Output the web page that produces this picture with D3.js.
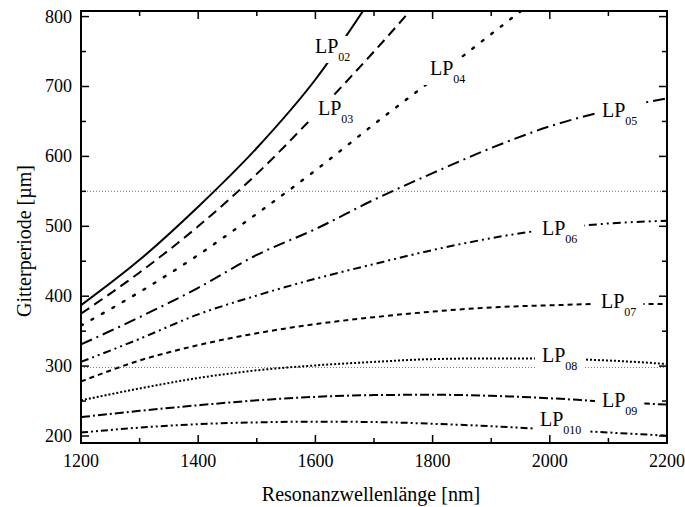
<!DOCTYPE html>
<html>
<head>
<meta charset="utf-8">
<script src="https://cdn.jsdelivr.net/npm/d3@7"></script>
<style>
  html, body { margin: 0; padding: 0; background: #fff; }
  svg { display: block; }
</style>
</head>
<body>
<svg id="chart" width="685" height="507" font-family="'Liberation Serif', 'Times New Roman', serif"></svg>
<script>
// ---------------- data ----------------
const wavelengths = [1200, 1300, 1400, 1500, 1600, 1700, 1800, 1900, 2000, 2100, 2200];
const modeNames = ["LP02", "LP03", "LP04", "LP05", "LP06", "LP07", "LP08", "LP09", "LP010"];
const modeSubs  = ["02", "03", "04", "05", "06", "07", "08", "09", "010"];
// grating period [µm] per wavelength (null = outside plotted range)
const lp02  = [387, 452, 528, 612, 710, 832, null, null, null, null, null];
const lp03  = [375, 434, 500, 575, 660, 750, 845, null, null, null, null];
const lp04  = [358, 406, 459, 518, 580, 646, 710, 775, 840, null, null];
const lp05  = [331, 370, 412, 459, 496, 538, 576, 612, 643, 666, 683];
const lp06  = [306, 339, 374, 401, 425, 446, 466, 483, 496, 504, 508];
const lp07  = [278, 308, 330, 347, 360, 370, 378, 384, 387, 389, 389];
const lp08  = [251, 268, 283, 294, 301, 306, 310, 311, 310.5, 308, 303];
const lp09  = [227, 236, 244, 251, 256, 258.5, 259, 257.5, 254, 249, 245];
const lp010 = [205, 212, 217, 219.5, 220.5, 220, 217.5, 214, 209.5, 205, 200.5];
const seriesValues = [lp02, lp03, lp04, lp05, lp06, lp07, lp08, lp09, lp010];
const refLines = [550, 298];
const xTicks = [1200, 1400, 1600, 1800, 2000, 2200];
const xMinor = [1300, 1500, 1700, 1900, 2100];
const yTicks = [200, 300, 400, 500, 600, 700, 800];
const yMinor = [250, 350, 450, 550, 650, 750];
const xTitle = "Resonanzwellenlänge [nm]";
const yTitle = "Gitterperiode [µm]";

// ---------------- layout / style ----------------
const L = 81, R = 667, T = 11, B = 443;
const dashes = ["none", "10,6", "2,10", "12,5,2,5", "8,4,2,4,2,4", "5,4", "2,2", "9,3,2,3", "7,3,2,3,2,3"];
const caps   = ["butt", "butt", "round", "butt", "butt", "butt", "butt", "butt", "butt"];
// label placement: left x and baseline y (pixels)
const labelLayout = [
  [315, 53], [318, 115], [430, 75], [602, 117], [542, 235],
  [601, 308], [542, 362], [602, 407], [540, 426]
];

const svg = d3.select("#chart");
const x = d3.scaleLinear().domain([1200, 2200]).range([L, R]);
const y = d3.scaleLinear().domain([190, 808]).range([B, T]);

svg.append("clipPath").attr("id", "clip")
  .append("rect").attr("x", L).attr("y", T).attr("width", R - L).attr("height", B - T);

const plot = svg.append("g").attr("clip-path", "url(#clip)");

// reference dotted lines
plot.selectAll("line.ref").data(refLines).join("line")
  .attr("class", "ref")
  .attr("x1", L).attr("x2", R)
  .attr("y1", d => y(d)).attr("y2", d => y(d))
  .attr("stroke", "#777").attr("stroke-width", 1)
  .attr("stroke-dasharray", "1,2");

// curves
const line = d3.line()
  .defined(d => d[1] != null)
  .x(d => x(d[0])).y(d => y(d[1]))
  .curve(d3.curveMonotoneX);

seriesValues.forEach((vals, i) => {
  const pts = wavelengths.map((w, j) => [w, vals[j]]);
  plot.append("path")
    .attr("d", line(pts))
    .attr("fill", "none")
    .attr("stroke", "#000")
    .attr("stroke-width", i === 2 ? 2.4 : 2)
    .attr("stroke-linecap", caps[i])
    .attr("stroke-dasharray", dashes[i]);
});

// labels with white knock-out background
modeNames.forEach((name, i) => {
  const [lx, ly] = labelLayout[i];
  const g = svg.append("g");
  const rect = g.append("rect").attr("fill", "#fff");
  const t = g.append("text").attr("x", lx).attr("y", ly).attr("font-size", 20).attr("fill", "#000");
  t.append("tspan").text("LP");
  t.append("tspan").attr("dy", 8).attr("font-size", 12).text(modeSubs[i]);
  const bb = t.node().getBBox();
  rect.attr("x", bb.x - 7).attr("y", bb.y + 1).attr("width", bb.width + 14).attr("height", bb.height - 2);
});

// ticks (inward, on all four sides)
const tickG = svg.append("g").attr("stroke", "#000").attr("stroke-width", 1.5);
xTicks.forEach(v => {
  tickG.append("line").attr("x1", x(v)).attr("x2", x(v)).attr("y1", B).attr("y2", B - 8);
  tickG.append("line").attr("x1", x(v)).attr("x2", x(v)).attr("y1", T).attr("y2", T + 8);
});
xMinor.forEach(v => {
  tickG.append("line").attr("x1", x(v)).attr("x2", x(v)).attr("y1", B).attr("y2", B - 5);
  tickG.append("line").attr("x1", x(v)).attr("x2", x(v)).attr("y1", T).attr("y2", T + 5);
});
yTicks.forEach(v => {
  tickG.append("line").attr("y1", y(v)).attr("y2", y(v)).attr("x1", L).attr("x2", L + 8);
  tickG.append("line").attr("y1", y(v)).attr("y2", y(v)).attr("x1", R).attr("x2", R - 8);
});
yMinor.forEach(v => {
  tickG.append("line").attr("y1", y(v)).attr("y2", y(v)).attr("x1", L).attr("x2", L + 5);
  tickG.append("line").attr("y1", y(v)).attr("y2", y(v)).attr("x1", R).attr("x2", R - 5);
});

// frame
svg.append("rect").attr("x", L).attr("y", T).attr("width", R - L).attr("height", B - T)
  .attr("fill", "none").attr("stroke", "#000").attr("stroke-width", 2);

// tick labels
svg.selectAll("text.xt").data(xTicks).join("text")
  .attr("class", "xt")
  .attr("x", d => x(d)).attr("y", 467)
  .attr("text-anchor", "middle").attr("font-size", 18).attr("fill", "#000")
  .text(d => d);
svg.selectAll("text.yt").data(yTicks).join("text")
  .attr("class", "yt")
  .attr("x", 72).attr("y", d => y(d) + 6)
  .attr("text-anchor", "end").attr("font-size", 18).attr("fill", "#000")
  .text(d => d);

// axis titles
svg.append("text").attr("x", 371).attr("y", 501)
  .attr("text-anchor", "middle").attr("font-size", 20).attr("fill", "#000").text(xTitle);
svg.append("text").attr("transform", "translate(31,241) rotate(-90)")
  .attr("text-anchor", "middle").attr("font-size", 20).attr("fill", "#000").text(yTitle);
</script>
</body>
</html>
